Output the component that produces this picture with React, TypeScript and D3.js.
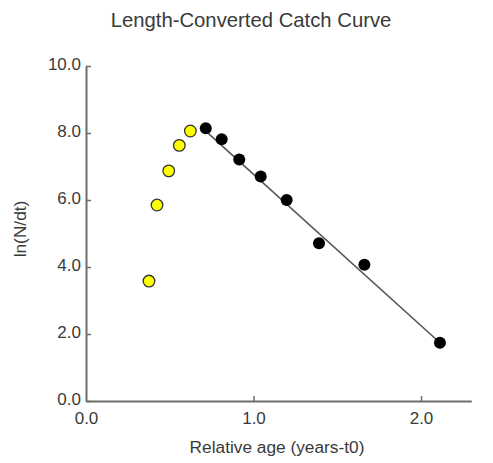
import React, { useEffect, useRef } from "react";
import * as d3 from "d3";

// points left of the peak (not used in the fit)
const excludedAge = [0.376, 0.424, 0.494, 0.557, 0.623];
const excludedLn = [3.58, 5.85, 6.87, 7.63, 8.06];

// points used in the regression
const fittedAge = [0.715, 0.81, 0.915, 1.043, 1.198, 1.391, 1.662, 2.113];
const fittedLn = [8.14, 7.81, 7.21, 6.7, 6.0, 4.71, 4.07, 1.74];

// regression line ln(N/dt) = a + b * t
const fitIntercept = 11.29;
const fitSlope = -4.52;

const xTicks = [0, 1, 2];
const yTicks = [0, 2, 4, 6, 8, 10];

const W = 493;
const H = 463;

export default function App() {
	const ref = useRef<SVGSVGElement>(null);

	useEffect(() => {
		if (!ref.current) return;
		const svg = d3.select(ref.current);
		svg.selectAll("*").remove();

		const x = d3.scaleLinear().domain([0, 2.3]).range([86, 471.25]);
		const y = d3.scaleLinear().domain([0, 10]).range([401, 66]);
		const fmt = d3.format(".1f");
		const font = "'Liberation Sans', Arial, sans-serif";

		// title
		svg.append("text")
			.attr("x", 251)
			.attr("y", 27)
			.attr("text-anchor", "middle")
			.attr("font-family", font)
			.attr("font-size", 20.3)
			.attr("fill", "#3a3a3a")
			.text("Length-Converted Catch Curve");

		// axes
		const gx = svg.append("g")
			.attr("transform", `translate(0,${y(0)})`)
			.call(
				d3.axisBottom(x).tickValues(xTicks).tickSizeInner(-5).tickSizeOuter(0).tickPadding(11).tickFormat(fmt)
			);
		const gy = svg.append("g")
			.attr("transform", `translate(${x(0)},0)`)
			.call(
				d3.axisLeft(y).tickValues(yTicks).tickSizeInner(-5).tickSizeOuter(0).tickPadding(5).tickFormat(fmt)
			);
		[gx, gy].forEach((g) => {
			g.select(".domain").attr("stroke", "#6e6e6e").attr("stroke-width", 2);
			g.selectAll(".tick line").attr("stroke", "#6e6e6e").attr("stroke-width", 1.5);
			g.selectAll(".tick text")
				.attr("font-family", font)
				.attr("font-size", 17)
				.attr("fill", "#3a3a3a");
		});
		gx.selectAll(".tick").filter((d) => d === 0).select("line").remove();
		gy.selectAll(".tick text").attr("dy", "0.2em");

		// axis titles
		svg.append("text")
			.attr("x", 277)
			.attr("y", 453)
			.attr("text-anchor", "middle")
			.attr("font-family", font)
			.attr("font-size", 17.3)
			.attr("fill", "#3a3a3a")
			.text("Relative age (years-t0)");
		svg.append("text")
			.attr("transform", "translate(26,229) rotate(-90)")
			.attr("text-anchor", "middle")
			.attr("font-family", font)
			.attr("font-size", 17.3)
			.attr("fill", "#3a3a3a")
			.text("ln(N/dt)");

		// regression line over the fitted range
		const t0 = d3.min(fittedAge) as number;
		const t1 = d3.max(fittedAge) as number;
		svg.append("line")
			.attr("x1", x(t0))
			.attr("y1", y(fitIntercept + fitSlope * t0))
			.attr("x2", x(t1))
			.attr("y2", y(fitIntercept + fitSlope * t1))
			.attr("stroke", "#555")
			.attr("stroke-width", 1.6);

		svg.selectAll("circle.excl")
			.data(excludedAge)
			.enter()
			.append("circle")
			.classed("excl", true)
			.attr("cx", (d) => x(d))
			.attr("cy", (d, i) => y(excludedLn[i]))
			.attr("r", 5.8)
			.attr("fill", "#ffff00")
			.attr("stroke", "#333")
			.attr("stroke-width", 1.3);

		svg.selectAll("circle.fit")
			.data(fittedAge)
			.enter()
			.append("circle")
			.classed("fit", true)
			.attr("cx", (d) => x(d))
			.attr("cy", (d, i) => y(fittedLn[i]))
			.attr("r", 6)
			.attr("fill", "#000");
	}, []);

	return (
		<svg
			ref={ref}
			width={W}
			height={H}
			style={{ position: "absolute", left: 0, top: 0, background: "#fff" }}
		/>
	);
}
